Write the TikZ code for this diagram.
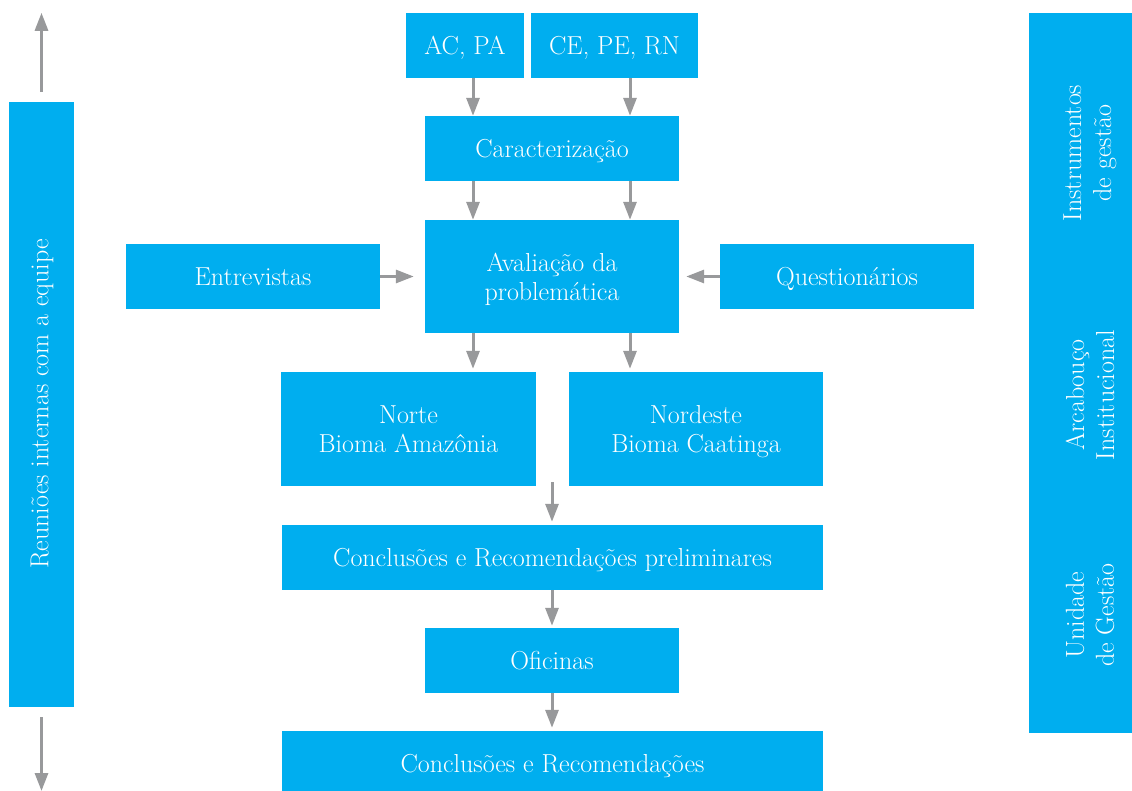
\documentclass[tikz,border=0pt]{standalone}
\usepackage{fontspec}
\usetikzlibrary{arrows.meta}
\definecolor{boxblue}{RGB}{0,174,239}
\definecolor{arrgray}{RGB}{152,153,155}
\begin{document}
\begin{tikzpicture}[x=1pt,y=-1pt,
  box/.style={fill=boxblue,draw=none,inner sep=0pt,text=white,align=center,
    text depth=0pt,font=\fontsize{26}{29}\selectfont},
  boxtext/.style={text=white,align=center,inner sep=0pt,
    font=\fontsize{26}{30}\selectfont},
  arr/.style={draw=arrgray,line width=3pt,
    -{Triangle[length=18pt,width=13pt]}}]
\useasboundingbox (0,0) rectangle (1132,791);

% columns used by the vertical connectors
\coordinate (colL) at (473,0);
\coordinate (colM) at (552,0);
\coordinate (colR) at (630,0);
\coordinate (downend) at (41.5,791);

% side bars
\node[box,minimum width=65pt,minimum height=605pt] (team) at (41.5,404.5) {};
\node[boxtext,rotate=90] (teamtxt) at (42,404) {Reuniões internas com a equipe};
\node[box,minimum width=103pt,minimum height=720pt] (tools) at (1080.5,373) {};
\node[boxtext,rotate=90] (instr) at (1090,153) {Instrumentos\\de gestão};
\node[boxtext,rotate=90] (arcab) at (1090,395) {Arcabouço\\Institucional};
\node[boxtext,rotate=90] (unid) at (1090,615) {Unidade\\de Gestão};

% main flow
\node[box,minimum width=118pt,minimum height=65pt] (acpa) at (465,45.5) {AC, PA};
\node[box,minimum width=167pt,minimum height=65pt] (cepern) at (614.5,45.5) {CE, PE, RN};
\node[box,minimum width=254pt,minimum height=65pt] (carac) at (552,148.5) {Caracterização};
\node[box,minimum width=254pt,minimum height=113pt] (aval) at (552,276.5) {Avaliação da\\problemática};
\node[box,minimum width=254pt,minimum height=65pt] (entrev) at (253,276.5) {Entrevistas};
\node[box,minimum width=254pt,minimum height=65pt] (quest) at (847,276.5) {Questionários};
\node[box,minimum width=255pt,minimum height=114pt] (norte) at (408.5,429) {Norte\\Bioma Amazônia};
\node[box,minimum width=254pt,minimum height=114pt] (nordeste) at (696,429) {Nordeste\\Bioma Caatinga};
\node[box,minimum width=541pt,minimum height=65pt] (prelim) at (552.5,557.5) {Conclusões e Recomendações preliminares};
\node[box,minimum width=254pt,minimum height=65pt] (ofic) at (552,660.5) {Oficinas};
\node[box,minimum width=541pt,minimum height=64pt] (final) at (552.5,763) {Conclusões e Recomendações};

% connectors
\draw[arr] (acpa.south -| colL) -- (carac.north -| colL);
\draw[arr] (cepern.south -| colR) -- (carac.north -| colR);
\draw[arr] (carac.south -| colL) -- (aval.north -| colL);
\draw[arr] (carac.south -| colR) -- (aval.north -| colR);
\draw[arr,shorten >=11pt] (entrev.east) -- (aval.west |- entrev.east);
\draw[arr,shorten >=7pt] (quest.west) -- (aval.east |- quest.west);
\draw[arr,shorten >=3pt] (aval.south -| colL) -- (norte.north -| colL);
\draw[arr,shorten >=3pt] (aval.south -| colR) -- (nordeste.north -| colR);
\draw[arr,shorten <=-4pt,shorten >=3pt] (norte.south -| colM) -- (prelim.north -| colM);
\draw[arr,shorten >=2pt] (prelim.south -| colM) -- (ofic.north -| colM);
\draw[arr,shorten >=3pt] (ofic.south -| colM) -- (final.north -| colM);
\draw[arr] ([yshift=10pt]team.north) -- (team.north |- acpa.north);
\draw[arr] ([yshift=-10pt]team.south) -- (downend);
\end{tikzpicture}
\end{document}
